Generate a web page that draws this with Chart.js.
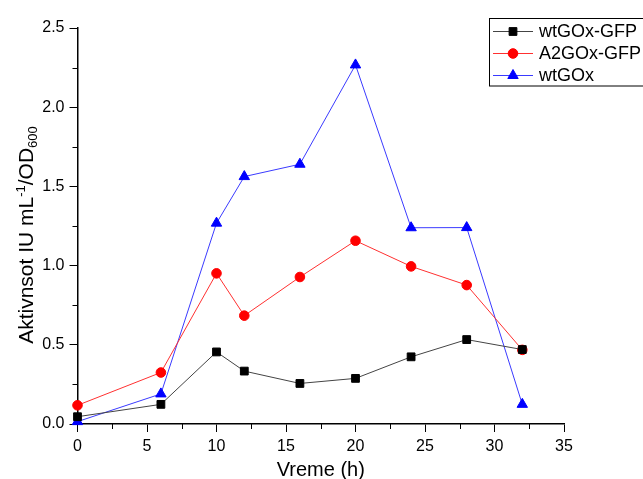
<!DOCTYPE html>
<html><head><meta charset="utf-8">
<script src="https://cdn.jsdelivr.net/npm/chart.js@4/dist/chart.umd.min.js"></script>
<style>html,body{margin:0;padding:0;background:#fff}</style>
</head><body>
<canvas id="c" width="643" height="479"></canvas>
<script>
// ---- data ----
const times = [0, 6, 10, 12, 16, 20, 24, 28, 32];
const wtGOxGFP = [0.046, 0.124, 0.455, 0.334, 0.256, 0.288, 0.424, 0.533, 0.470];
const A2GOxGFP = [0.118, 0.325, 0.951, 0.684, 0.928, 1.157, 0.995, 0.877, 0.468];
const wtGOx    = [0.015, 0.190, 1.268, 1.562, 1.640, 2.267, 1.239, 1.240, 0.124];
const seriesNames = ['wtGOx-GFP', 'A2GOx-GFP', 'wtGOx'];
const xTitle = 'Vreme (h)';
const yTitleParts = [['Aktivnsot IU mL', 0], ['-1', 1], ['/OD', 0], ['600', -1]];

const FONT = '"Liberation Sans", Arial, sans-serif';
const pts = arr => times.map((t, i) => ({x: t, y: arr[i]}));

const minorTicks = {
  id: 'minorTicks',
  afterDraw(chart) {
    const ctx = chart.ctx, xs = chart.scales.x, ys = chart.scales.y;
    const a = chart.chartArea;
    ctx.save();
    ctx.strokeStyle = '#000'; ctx.lineWidth = 1;
    ctx.beginPath();
    for (let v = 2.5; v < 35; v += 5) {
      const px = Math.round(xs.getPixelForValue(v)) + 0.5;
      ctx.moveTo(px, a.bottom); ctx.lineTo(px, a.bottom + 5);
    }
    for (let v = 0.25; v < 2.5; v += 0.5) {
      const py = Math.round(ys.getPixelForValue(v)) + 0.5;
      ctx.moveTo(a.left, py); ctx.lineTo(a.left - 5, py);
    }
    ctx.stroke();
    ctx.restore();
  }
};

const titles = {
  id: 'titles',
  afterDraw(chart) {
    const ctx = chart.ctx, a = chart.chartArea;
    ctx.save();
    ctx.fillStyle = '#000';
    ctx.font = '20px ' + FONT;
    ctx.textAlign = 'center'; ctx.textBaseline = 'alphabetic';
    ctx.fillText(xTitle, (a.left + a.right) / 2, 476);
    // y title, rotated, with super/subscript
    ctx.translate(33, 235);
    ctx.rotate(-Math.PI / 2);
    ctx.textAlign = 'left';
    const big = '21px ' + FONT, small = '13px ' + FONT;
    let total = 0;
    yTitleParts.forEach(([t, s]) => { ctx.font = s ? small : big; total += ctx.measureText(t).width; });
    let x = -total / 2;
    yTitleParts.forEach(([t, s]) => {
      ctx.font = s ? small : big;
      const dy = s === 1 ? -8 : (s === -1 ? 4 : 0);
      ctx.fillText(t, x, dy);
      x += ctx.measureText(t).width;
    });
    ctx.restore();
  }
};

const legendBox = {
  id: 'legendBox',
  afterDraw(chart) {
    const ctx = chart.ctx;
    ctx.save();
    ctx.fillStyle = '#fff';
    ctx.fillRect(489.5, 18.5, 170, 67.5);
    ctx.strokeStyle = '#000'; ctx.lineWidth = 1;
    ctx.strokeRect(489.5, 18.5, 170, 67.5);
    const rows = [31, 53, 75];
    chart.data.datasets.forEach((ds, i) => {
      const y = rows[i];
      ctx.strokeStyle = ds.borderColor; ctx.lineWidth = 1;
      ctx.beginPath(); ctx.moveTo(493, y + 0.5); ctx.lineTo(533, y + 0.5); ctx.stroke();
      ctx.fillStyle = ds.pointBackgroundColor; ctx.strokeStyle = ds.pointBorderColor; ctx.lineWidth = 1;
      Chart.helpers.drawPoint(ctx, {pointStyle: ds.pointStyle, radius: ds.pointRadius, borderWidth: 1, rotation: 0}, 513, y + 0.5);
      ctx.fillStyle = '#000';
      ctx.font = '18px ' + FONT;
      ctx.textAlign = 'left'; ctx.textBaseline = 'middle';
      ctx.fillText(ds.label, 539, y + 1);
    });
    ctx.restore();
  }
};

new Chart(document.getElementById('c'), {
  type: 'line',
  data: {
    datasets: [
      {label: seriesNames[0], data: pts(wtGOxGFP), borderColor: '#444', borderWidth: 1,
       pointStyle: 'rect', pointRadius: 5.5, pointBackgroundColor: '#000', pointBorderColor: '#000', pointBorderWidth: 1, clip: false},
      {label: seriesNames[1], data: pts(A2GOxGFP), borderColor: '#ff3030', borderWidth: 1,
       pointStyle: 'circle', pointRadius: 4.8, pointBackgroundColor: '#ff0000', pointBorderColor: '#ff0000', pointBorderWidth: 1, clip: false},
      {label: seriesNames[2], data: pts(wtGOx), borderColor: '#3a3aff', borderWidth: 1,
       pointStyle: 'triangle', pointRadius: 6, pointBackgroundColor: '#0000ff', pointBorderColor: '#0000ff', pointBorderWidth: 1, clip: false}
    ]
  },
  options: {
    responsive: false, animation: false,
    layout: {padding: {top: 28, right: 79, left: 0, bottom: 0}},
    plugins: {legend: {display: false}, tooltip: {enabled: false}},
    scales: {
      x: {
        type: 'linear', min: 0, max: 35,
        ticks: {stepSize: 5, color: '#000', font: {family: FONT, size: 16}, padding: 5, maxRotation: 0},
        grid: {drawOnChartArea: false, drawTicks: true, tickLength: 8, color: '#000', lineWidth: 1},
        border: {display: true, color: '#000', width: 1.5},
        afterFit(s) { s.height = 55; }
      },
      y: {
        min: 0, max: 2.5,
        ticks: {stepSize: 0.5, color: '#000', font: {family: FONT, size: 16}, padding: 5, callback: v => v.toFixed(1)},
        grid: {drawOnChartArea: false, drawTicks: true, tickLength: 8, color: '#000', lineWidth: 1},
        border: {display: true, color: '#000', width: 1.5},
        afterFit(s) { s.width = 77.5; }
      }
    }
  },
  plugins: [minorTicks, titles, legendBox]
});
</script>
</body></html>
